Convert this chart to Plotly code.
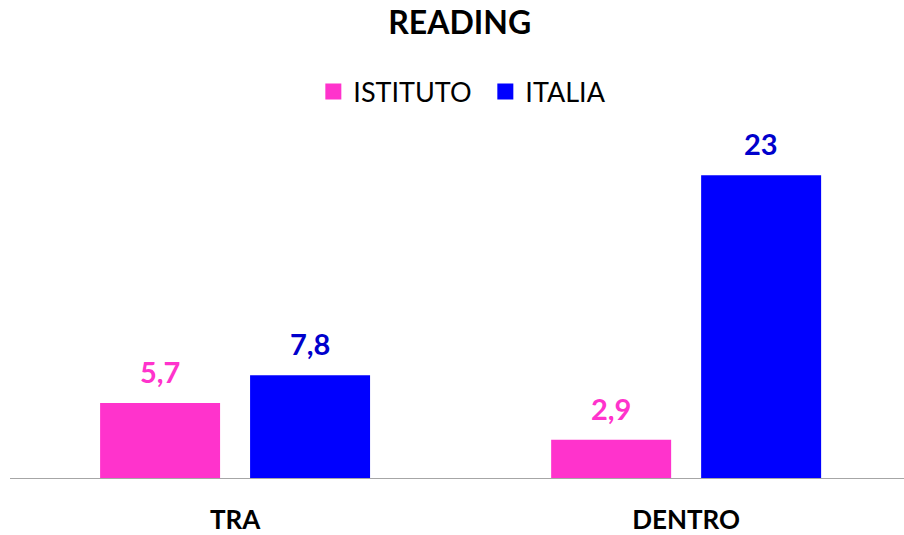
import plotly.graph_objects as go

categories = ["TRA", "DENTRO"]
istituto = [5.7, 2.9]
italia = [7.8, 23]
series_names = ["ISTITUTO", "ITALIA"]

bar_colors = ["#FF33CC", "#0000FF"]
label_colors = ["#FF33CC", "#0000CC"]
FONT = "Lato"


def fmt(v):
    return f"{v:g}".replace(".", ",")


fig = go.Figure()
for name, vals, col in zip(series_names, [istituto, italia], bar_colors):
    fig.add_trace(go.Bar(
        x=categories, y=vals, name=name, marker=dict(color=col, line=dict(width=0)),
        showlegend=False, hoverinfo="x+y",
    ))
    # legend entry with a larger square swatch
    fig.add_trace(go.Scatter(
        x=[None], y=[None], mode="markers", name=name,
        marker=dict(symbol="square", size=18, color=col),
    ))

# value labels above each bar
offsets = [-0.166, 0.166]
for vals, off, col in zip([istituto, italia], offsets, label_colors):
    for i, v in enumerate(vals):
        fig.add_annotation(
            x=i + off, y=v, xref="x", yref="y", text=f"<b>{fmt(v)}</b>",
            showarrow=False, yanchor="bottom", yshift=12,
            font=dict(family=FONT, size=29, color=col),
        )

fig.update_layout(
    width=904, height=535,
    margin=dict(l=10, r=0, t=149, b=57),
    paper_bgcolor="white", plot_bgcolor="white",
    barmode="group", bargap=0.335, bargroupgap=0.2,
    title=dict(text="<b>READING</b>", x=0.503, xanchor="center", xref="paper",
               y=1 - 23 / 535, yanchor="middle", yref="container",
               font=dict(family=FONT, size=32, color="black")),
    legend=dict(orientation="h", x=323 / 904 - 0.018, xanchor="left", y=1 - 92 / 535,
                yanchor="middle", yref="container",
                font=dict(family=FONT, size=27, color="black"),
                itemwidth=30, tracegroupgap=0, entrywidth=127),
    xaxis=dict(type="category", range=[-0.499, 1.483], showline=True,
               linecolor="#A6A6A6", linewidth=1, ticks="", showgrid=False,
               automargin=False,
               tickfont=dict(family=FONT, size=26, color="black"),
               ticklabelstandoff=19, tickprefix="<b>", ticksuffix="</b>"),
    yaxis=dict(range=[0, 25], visible=False, showgrid=False, zeroline=False,
               automargin=False),
    showlegend=True,
)

fig.write_html("out.html")
